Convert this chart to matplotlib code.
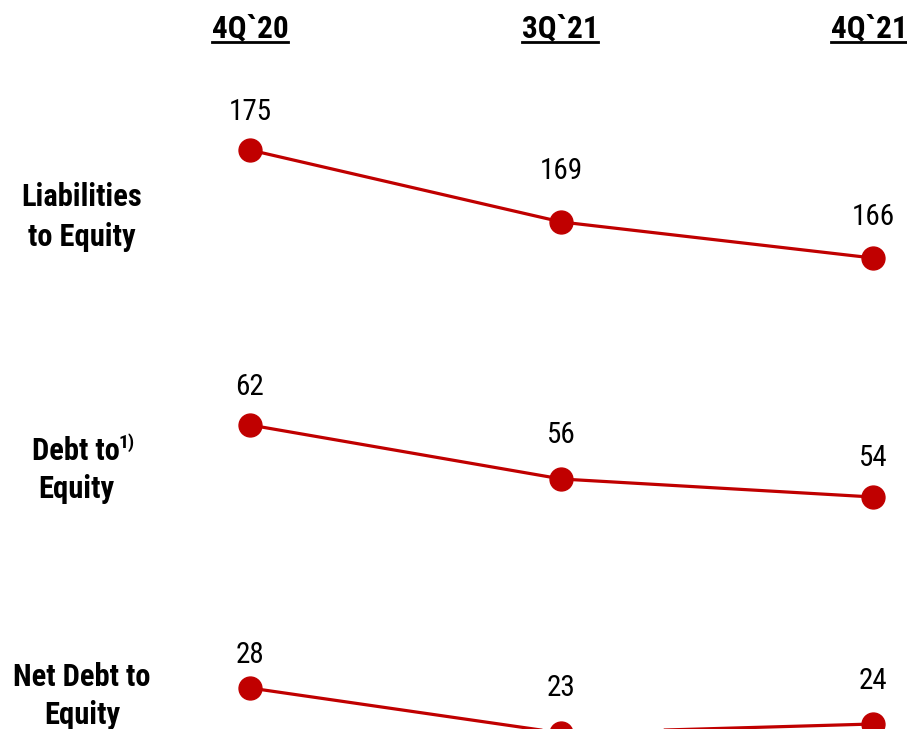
import matplotlib
matplotlib.use("Agg")
import matplotlib.pyplot as plt
from matplotlib import font_manager
from matplotlib.lines import Line2D

# Pick a condensed sans family that has both regular and bold faces
weights = {}
for f in font_manager.fontManager.ttflist:
    weights.setdefault(f.name, set()).add(f.weight)
family = "Liberation Sans"
for cand in ["Liberation Sans Narrow", "Arial Narrow", "Roboto Condensed",
             "Archivo Narrow", "Barlow Semi Condensed", "Asap Condensed"]:
    w = weights.get(cand, set())
    if 400 in w and 700 in w:
        family = cand
        break
plt.rcParams["font.family"] = [family, "DejaVu Sans"]

periods = ["4Q`20", "3Q`21", "4Q`21"]
row_labels = ["Liabilities\nto Equity", "Debt to\nEquity", "Net Debt to\nEquity"]
liabilities_to_equity = [175, 169, 166]
debt_to_equity = [62, 56, 54]
net_debt_to_equity = [28, 23, 24]

RED = "#C00000"
W, H = 907, 729
fig = plt.figure(figsize=(W / 100, H / 100), dpi=100)


def fx(px):
    return px / W


def fy(py):
    return 1 - py / H


# x mapping: category index -> pixel column
x0_px, dx_px = 250, 311.5
xlim = (-x0_px / dx_px, (W - x0_px) / dx_px)

# (values, pixel row of first point, pixels per unit, label offsets in px)
rows = [
    (liabilities_to_equity, 150, 12.0, [38, 51, 41]),
    (debt_to_equity, 425, 9.0, [38, 44, 39]),
    (net_debt_to_equity, 688, 9.0, [33, 45, 43]),
]
xs = list(range(len(periods)))
for vals, y0, k, offs in rows:
    ax = fig.add_axes([0, 0, 1, 1])
    ax.patch.set_alpha(0)
    ax.axis("off")
    v0 = vals[0]
    ax.set_xlim(*xlim)
    ax.set_ylim(v0 - (H - y0) / k, v0 + y0 / k)
    ax.plot(xs, vals, color=RED, lw=2.3, marker="o", ms=16.5,
            markerfacecolor=RED, markeredgecolor=RED, clip_on=False)
    for x, v, o in zip(xs, vals, offs):
        ax.annotate(f"{v}", (x, v), xytext=(0, o * 0.72), textcoords="offset points",
                    ha="center", va="center", fontsize=21, color="black",
                    annotation_clip=False)

# Column headers, bold and underlined
header_x = [250, 560, 869]
headers = []
for x, p in zip(header_x, periods):
    headers.append(fig.text(fx(x), fy(28), p, ha="center", va="center",
                            fontsize=22.5, fontweight="bold"))

# Row labels
label_pos = [(82, 217), (76, 470), (82, 696)]
row_spacing = [1.4, 1.32, 1.3]
row_texts = []
for (x, y), lab, ls in zip(label_pos, row_labels, row_spacing):
    row_texts.append(fig.text(fx(x), fy(y), lab, ha="center", va="center",
                              fontsize=22, fontweight="bold", linespacing=ls))

fig.canvas.draw()
r = fig.canvas.get_renderer()
inv = fig.transFigure.inverted()
for t in headers:
    bb = t.get_window_extent(r)
    (x_a, y_a), (x_b, _) = inv.transform([(bb.x0, bb.y0 + 1), (bb.x1, bb.y0)])
    fig.add_artist(Line2D([x_a, x_b], [y_a, y_a], transform=fig.transFigure,
                          color="black", lw=2.0))

# Footnote marker after "Debt to"
bb = row_texts[1].get_window_extent(r)
sx, sy = inv.transform((bb.x1 - 1, bb.y1 + 3))
fig.text(sx, sy, "1)", ha="left", va="top", fontsize=14, fontweight="bold")

fig.savefig("out.png", dpi=100)
